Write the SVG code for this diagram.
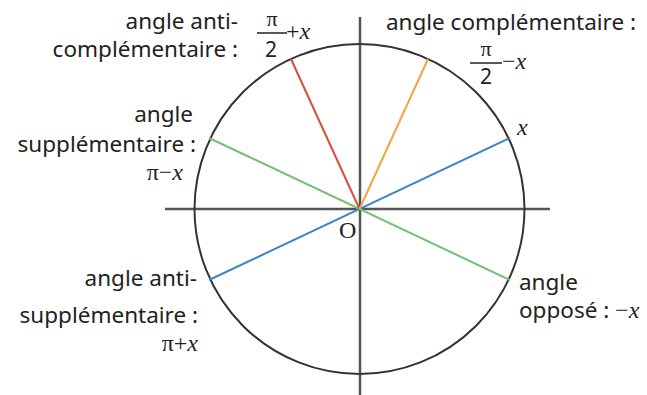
<svg xmlns="http://www.w3.org/2000/svg" width="647" height="395" viewBox="0 0 647 395">
<style>
.t{font-family:"Noto Sans","Open Sans",sans-serif;font-size:22.5px;fill:#222}
.m{font-family:"Liberation Serif",serif;font-size:24px;fill:#222}
.f{font-family:"Liberation Serif",serif;font-size:22px;fill:#222}
.d{font-family:"Noto Sans","Open Sans",sans-serif;font-size:21px;fill:#222}
.i{font-style:italic}
.ax{stroke:#555;stroke-width:2.5;fill:none}
.ln{stroke-width:2;fill:none}
</style>
<rect width="647" height="395" fill="#fff"/>
<g id="axes">
<line class="ax" x1="165" y1="209" x2="550" y2="209"/>
<line class="ax" x1="360" y1="17" x2="360" y2="395"/>
</g>
<g id="circle"><circle cx="359.5" cy="209" r="165" fill="none" stroke="#333" stroke-width="2"/></g>
<g id="connectors">
<line class="ln" stroke="#3d86c6" x1="209" y1="280" x2="510" y2="138"/>
<line class="ln" stroke="#72c16f" x1="209" y1="138" x2="510" y2="280"/>
<line class="ln" stroke="#dc4b3c" x1="359.5" y1="209" x2="291" y2="59"/>
<line class="ln" stroke="#f0a640" x1="359.5" y1="209" x2="428" y2="59"/>
</g>
<g id="origin"><text class="m" x="339" y="238">O</text></g>
<g id="label-x"><text class="m i" x="517" y="135">x</text></g>
<g id="label-anticomp">
<text class="t" x="238" y="29" text-anchor="end">angle anti-</text>
<text class="t" x="238" y="57" text-anchor="end">complémentaire :</text>
<text class="f" x="272" y="26" text-anchor="middle">π</text>
<line x1="257" y1="33" x2="287" y2="33" stroke="#222" stroke-width="1.5"/>
<text class="d" x="271" y="57" text-anchor="middle">2</text>
<text class="m" x="286" y="39">+<tspan class="i">x</tspan></text>
</g>
<g id="label-comp">
<text class="t" x="636" y="30" text-anchor="end">angle complémentaire :</text>
<text class="f" x="486" y="56" text-anchor="middle">π</text>
<line x1="470" y1="63" x2="502" y2="63" stroke="#222" stroke-width="1.5"/>
<text class="d" x="486" y="84" text-anchor="middle">2</text>
<text class="m" x="502" y="69">−<tspan class="i">x</tspan></text>
</g>
<g id="label-supp">
<text class="t" x="193" y="122" text-anchor="end">angle</text>
<text class="t" x="196" y="152" text-anchor="end">supplémentaire :</text>
<text class="m" x="183" y="180" text-anchor="end">π−<tspan class="i">x</tspan></text>
</g>
<g id="label-antisupp">
<text class="t" x="197" y="286" text-anchor="end">angle anti-</text>
<text class="t" x="198" y="323" text-anchor="end">supplémentaire :</text>
<text class="m" x="198" y="351" text-anchor="end">π+<tspan class="i">x</tspan></text>
</g>
<g id="label-oppose">
<text class="t" x="519" y="290">angle</text>
<text class="t" x="519" y="318">opposé : <tspan class="m">−</tspan><tspan class="m i">x</tspan></text>
</g>
</svg>
